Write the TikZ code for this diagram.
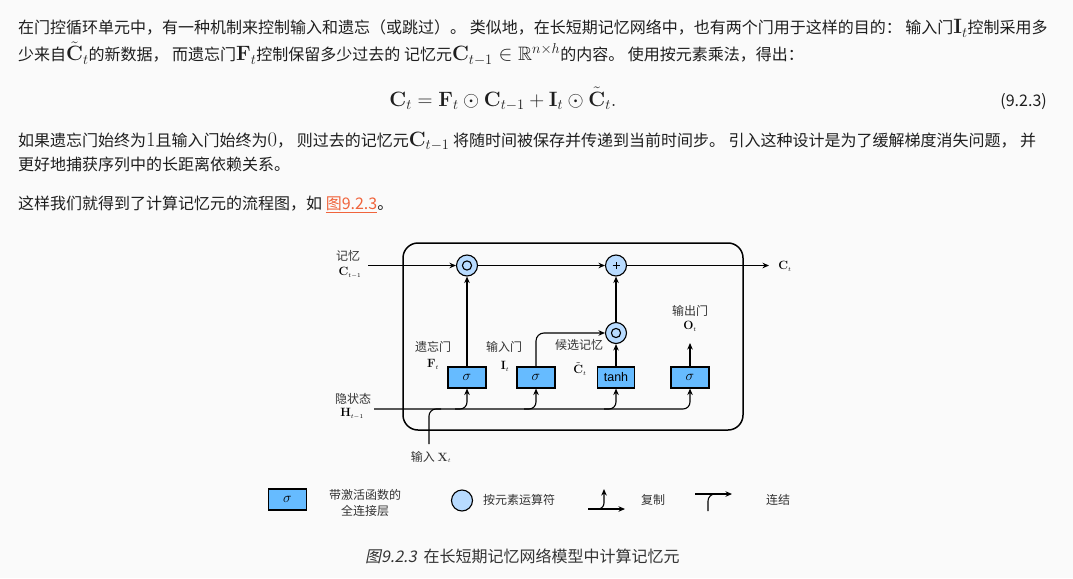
\documentclass[tikz,border=0pt]{standalone}
\usepackage{amsmath,amssymb}
\usepackage[no-math]{fontspec}
\setmainfont{Noto Sans CJK SC}
\setsansfont{Liberation Sans}
\newfontfamily\capit{Noto Sans CJK SC}[FakeSlant=0.2]
\usetikzlibrary{arrows.meta,calc}
\definecolor{bg}{HTML}{FAFAFA}
\definecolor{txtc}{HTML}{1E1E1E}
\definecolor{lbl}{HTML}{333333}
\definecolor{boxblue}{HTML}{66BBFF}
\definecolor{circblue}{HTML}{B8DBFF}
\definecolor{linkc}{HTML}{F0643C}
\newcommand\mth[1]{{\fontsize{19.4}{22}\selectfont$#1$}}
\begin{document}
\begin{tikzpicture}[x=1pt,y=-1pt,
 txt/.style={anchor=base west, inner sep=0pt, text=txtc, font=\fontsize{16}{20}\selectfont},
 lab/.style={inner sep=0pt, text=lbl, font=\fontsize{12}{16}\selectfont},
 mlab/.style={inner sep=0pt, text=black, font=\fontsize{12.5}{13}\selectfont},
 layer/.style={draw=black, line width=1.1pt, fill=boxblue, minimum width=38pt, minimum height=21pt, inner sep=0pt, font=\fontsize{14}{14}\selectfont},
 op/.style={circle, draw=black, line width=1.1pt, fill=circblue, minimum size=21pt, inner sep=0pt, font=\fontsize{16}{16}\selectfont},
 odotop/.style={op, path picture={
   \draw[line width=1.1pt] (path picture bounding box.center) circle (4.6pt);
   \fill (path picture bounding box.center) circle (1.8pt);}},
 plusop/.style={op, path picture={
   \draw[line width=0.9pt] ($(path picture bounding box.center)+(-3.5pt,0)$) -- ++(7pt,0)
     ($(path picture bounding box.center)+(0,-3.5pt)$) -- ++(0,7pt);}},
 con/.style={line width=1.1pt, draw=black},
 arr/.style={con, -{Stealth[length=6.5pt,width=5.5pt]}},
]
\fill[bg] (0,0) rectangle (1073,578);
\useasboundingbox (0,0) rectangle (1073,578);

% ---- body text ----
\node[txt] (p1) at (18,34) {在门控循环单元中，有一种机制来控制输入和遗忘（或跳过）。 类似地，在长短期记忆网络中，也有两个门用于这样的目的： 输入门\mth{\mathbf{I}_t}控制采用多};
\node[txt] (p2) at (18,61) {少来自\mth{\tilde{\mathbf{C}}_t}的新数据， 而遗忘门\mth{\mathbf{F}_t}控制保留多少过去的 记忆元\mth{\mathbf{C}_{t-1} \in \mathbb{R}^{n\times h}}的内容。 使用按元素乘法，得出：};
\node[anchor=base, inner sep=0pt, text=txtc] (eq) at (503,106) {\mth{\mathbf{C}_t = \mathbf{F}_t \odot \mathbf{C}_{t-1} + \mathbf{I}_t \odot \tilde{\mathbf{C}}_t.}};
\node[anchor=base east, inner sep=0pt, text=txtc, font=\fontsize{16}{20}\selectfont] (eqn) at (1047,106) {(9.2.3)};
\node[txt] (p3) at (18,146) {如果遗忘门始终为\mth{1}且输入门始终为\mth{0}， 则过去的记忆元\mth{\mathbf{C}_{t-1}} 将随时间被保存并传递到当前时间步。 引入这种设计是为了缓解梯度消失问题， 并};
\node[txt] (p4) at (18,170) {更好地捕获序列中的长距离依赖关系。};
\node[txt] (p5) at (18,209) {这样我们就得到了计算记忆元的流程图，如 {\color{linkc}\underline{图9.2.3}}。};

% ---- diagram ----
\node[draw=black, line width=1.5pt, rounded corners=15pt, minimum width=340pt, minimum height=187pt, inner sep=0pt] (cell) at (573,336.5) {};

\node[odotop] (m1) at (467,265.5) {};
\node[plusop] (add) at (616,265.5) {};
\node[odotop] (m2) at (616,333) {};
\node[layer] (fg) at (467,377.5) {$\sigma$};
\node[layer] (ig) at (536,377.5) {$\sigma$};
\node[layer, minimum width=37pt, font=\fontsize{12.5}{12}\selectfont] (cg) at (616,377.5) {\sffamily tanh};
\node[layer] (og) at (690,377.5) {$\sigma$};

\coordinate (cin) at (368,265.5);
\coordinate (cout) at (769,265.5);
\coordinate (hin) at (374,409);
\coordinate (xin) at (429,444);
\coordinate (oout) at (690,343);

\draw[arr] (cin) -- (m1);
\draw[arr] (m1) -- (add);
\draw[arr] (add) -- (cout);
\draw[arr] (fg) -- (m1);
\draw[arr] (m2) -- (add);
\draw[arr] (cg) -- (m2);
\draw[arr, rounded corners=8pt] (ig.north) |- (m2.west);
\draw[arr] (og) -- (oout);
\draw[arr, rounded corners=7pt] (hin) -- (hin -| og) -- (og.south);
\draw[arr, rounded corners=7pt] ($(hin -| cg)+(-12,0)$) -- (hin -| cg) -- (cg.south);
\draw[arr, rounded corners=7pt] ($(hin -| ig)+(-12,0)$) -- (hin -| ig) -- (ig.south);
\draw[arr, rounded corners=7pt] ($(hin -| fg)+(-12,0)$) -- (hin -| fg) -- (fg.south);
\draw[con, rounded corners=7pt] (xin) -- (xin |- hin) -- ($(xin |- hin)+(12,0)$);

\node[lab] (lc1) at (348,256) {记忆};
\node[mlab] (lc2) at (350,273) {$\mathbf{C}_{\scriptscriptstyle t-1}$};
\node[lab] (lh1) at (353,399) {隐状态};
\node[mlab] (lh2) at (352,414) {$\mathbf{H}_{\scriptscriptstyle t-1}$};
\node[lab] (lf1) at (433,347) {遗忘门};
\node[mlab] (lf2) at (433,364) {$\mathbf{F}_{\scriptscriptstyle t}$};
\node[lab] (li1) at (504,347) {输入门};
\node[mlab] (li2) at (505,366) {$\mathbf{I}_{\scriptscriptstyle t}$};
\node[lab] (lcc1) at (579,345) {候选记忆};
\node[mlab] (lcc2) at (580,369) {$\tilde{\mathbf{C}}_{\scriptscriptstyle t}$};
\node[lab] (lo1) at (690,311) {输出门};
\node[mlab] (lo2) at (690,326) {$\mathbf{O}_{\scriptscriptstyle t}$};
\node[mlab] (lct) at (785,266) {$\mathbf{C}_{\scriptscriptstyle t}$};
\node[lab] (lx) at (431,457) {输入 {\fontsize{12.5}{13}\selectfont$\mathbf{X}_{\scriptscriptstyle t}$}};

% ---- legend ----
\node[layer] (lg1) at (287.5,499.5) {$\sigma$};
\node[lab, align=center] (lg1t) at (365,503) {带激活函数的\\全连接层};
\node[op] (lg2) at (462,500.5) {};
\node[lab] (lg2t) at (519,500) {按元素运算符};
\coordinate (cpa) at (588,509);
\coordinate (cpb) at (625,509);
\coordinate (cpc) at (604,489);
\draw[arr] (cpa) -- (cpb);
\draw[arr, rounded corners=6pt] ($(cpa -| cpc)+(-10,0)$) -- (cpa -| cpc) -- (cpc);
\node[lab] (lg3t) at (653,500) {复制};
\coordinate (cna) at (708,511);
\coordinate (cnb) at (732,494);
\coordinate (cnc) at (695,494);
\draw[arr] (cnc) -- (cnb);
\draw[con, rounded corners=7pt] (cna) -- (cna |- cnb) -- ($(cna |- cnb)+(10,0)$);
\node[lab] (lg4t) at (778,500) {连结};

% ---- caption ----
\node[anchor=west, inner sep=0pt, text=lbl, font=\fontsize{16}{20}\selectfont] (cap) at (365,556) {{\capit 图9.2.3}\hspace{7pt}在长短期记忆网络模型中计算记忆元};
\end{tikzpicture}
\end{document}
